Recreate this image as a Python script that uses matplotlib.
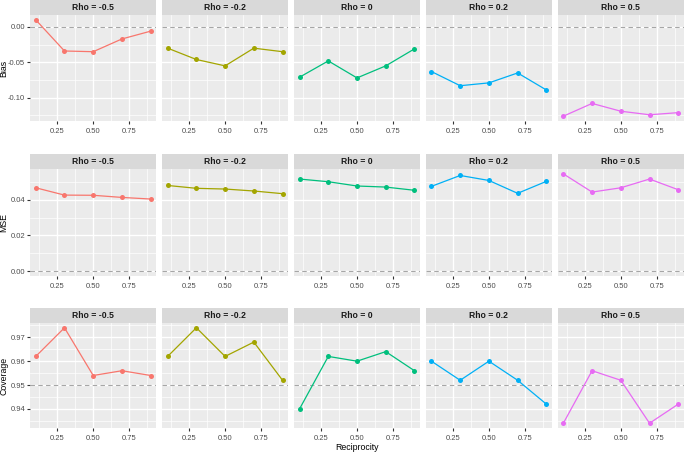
import matplotlib
matplotlib.use("Agg")
import matplotlib.pyplot as plt
from matplotlib.ticker import FixedLocator

plt.rcParams['font.family'] = ['Liberation Sans', 'DejaVu Sans']

# ---------------- data ----------------
reciprocity = [0.1, 0.3, 0.5, 0.7, 0.9]
rho_labels = ["Rho = -0.5", "Rho = -0.2", "Rho = 0", "Rho = 0.2", "Rho = 0.5"]
colors = ["#F8766D", "#A3A500", "#00BF7D", "#00B0F6", "#E76BF3"]

bias_values = [
    [0.010, -0.034, -0.035, -0.017, -0.006],
    [-0.030, -0.046, -0.055, -0.030, -0.035],
    [-0.071, -0.048, -0.072, -0.055, -0.031],
    [-0.063, -0.083, -0.079, -0.065, -0.089],
    [-0.126, -0.108, -0.119, -0.124, -0.121],
]
mse_values = [
    [0.0467, 0.0426, 0.0425, 0.0413, 0.0404],
    [0.0480, 0.0464, 0.0460, 0.0449, 0.0434],
    [0.0516, 0.0501, 0.0477, 0.0471, 0.0453],
    [0.0475, 0.0536, 0.0508, 0.0436, 0.0503],
    [0.0545, 0.0443, 0.0467, 0.0516, 0.0456],
]
coverage_values = [
    [0.962, 0.974, 0.954, 0.956, 0.954],
    [0.962, 0.974, 0.962, 0.968, 0.952],
    [0.940, 0.962, 0.960, 0.964, 0.956],
    [0.960, 0.952, 0.960, 0.952, 0.942],
    [0.934, 0.956, 0.952, 0.934, 0.942],
]

metric_names = ["Bias", "MSE", "Coverage"]
metric_data = [bias_values, mse_values, coverage_values]
ref_lines = [0.0, 0.0, 0.95]
y_major = [[-0.10, -0.05, 0.00], [0.00, 0.02, 0.04], [0.94, 0.95, 0.96, 0.97]]
y_major_labels = [["-0.10", "-0.05", "0.00"], ["0.00", "0.02", "0.04"],
                  ["0.94", "0.95", "0.96", "0.97"]]
y_minor = [[-0.125, -0.075, -0.025, 0.025], [0.01, 0.03, 0.05],
           [0.935, 0.945, 0.955, 0.965, 0.975]]
x_major = [0.25, 0.50, 0.75]
x_major_labels = ["0.25", "0.50", "0.75"]
x_minor = [0.125, 0.375, 0.625, 0.875]

# ---------------- layout (pixels) ----------------
W, H = 685, 453
fig = plt.figure(figsize=(W / 100, H / 100), dpi=100)

col_left = 30.0
col_right = 684.0
gap = 5.5
pw = (col_right - col_left - 4 * gap) / 5
rows_px = [(0.5, 15.0, 121.0), (154.0, 169.0, 276.0), (308.0, 323.0, 428.0)]  # strip top, panel top, panel bottom

PANEL_BG = "#EBEBEB"
STRIP_BG = "#D9D9D9"
TICK_COL = "#333333"
LAB_COL = "#4D4D4D"


def fax(x0, y0, x1, y1):
    return fig.add_axes([x0 / W, 1 - y1 / H, (x1 - x0) / W, (y1 - y0) / H])


for r, (name, data, ref) in enumerate(zip(metric_names, metric_data, ref_lines)):
    st, pt, pb = rows_px[r]
    allv = [v for s in data for v in s] + [ref]
    lo, hi = min(allv), max(allv)
    pad = 0.05 * (hi - lo)
    ylim = (lo - pad, hi + pad)
    xpad = 0.05 * (max(reciprocity) - min(reciprocity))
    xlim = (min(reciprocity) - xpad, max(reciprocity) + xpad)
    for c in range(5):
        x0 = col_left + c * (pw + gap)
        x1 = x0 + pw
        # strip
        sax = fax(x0, st, x1, pt)
        sax.set_facecolor(STRIP_BG)
        sax.set_xticks([]); sax.set_yticks([])
        for sp in sax.spines.values():
            sp.set_visible(False)
        sax.text(0.5, 0.5, rho_labels[c], ha="center", va="center",
                 fontsize=6.2, fontweight="bold", color="#1A1A1A",
                 transform=sax.transAxes)
        # panel
        ax = fax(x0, pt, x1, pb)
        ax.set_facecolor(PANEL_BG)
        for sp in ax.spines.values():
            sp.set_visible(False)
        ax.set_xlim(*xlim)
        ax.set_ylim(*ylim)
        ax.xaxis.set_major_locator(FixedLocator(x_major))
        ax.xaxis.set_minor_locator(FixedLocator(x_minor))
        ax.yaxis.set_major_locator(FixedLocator(y_major[r]))
        ax.yaxis.set_minor_locator(FixedLocator(y_minor[r]))
        ax.grid(which="major", color="white", lw=1.0)
        ax.grid(which="minor", color="white", lw=0.5)
        ax.set_axisbelow(True)
        ax.set_xticklabels(x_major_labels)
        ax.tick_params(axis="both", which="major", length=2.2, width=0.8,
                       color=TICK_COL, labelcolor=LAB_COL, labelsize=5.5, pad=1.2)
        ax.tick_params(axis="x", which="major", pad=2.5)
        ax.tick_params(axis="both", which="minor", length=0)
        if c == 0:
            ax.set_yticklabels(y_major_labels[r])
        else:
            ax.tick_params(axis="y", which="major", length=0, labelleft=False)
        ax.axhline(ref, color="#A6A6A6", lw=0.8, ls=(0, (4, 3)), zorder=2)
        ax.plot(reciprocity, data[c], color=colors[c], lw=0.9, zorder=3)
        ax.plot(reciprocity, data[c], "o", color=colors[c], ms=3.6, mew=0, zorder=4)
    # y label
    fig.text(4 / W, 1 - ((pt + pb) / 2) / H, name, rotation=90, ha="center",
             va="center", fontsize=6.3, color="black")

fig.text(((col_left + col_right) / 2) / W, 1 - 447 / H, "Reciprocity",
         ha="center", va="center", fontsize=6.3, color="black")

fig.savefig("out.png", dpi=100)
